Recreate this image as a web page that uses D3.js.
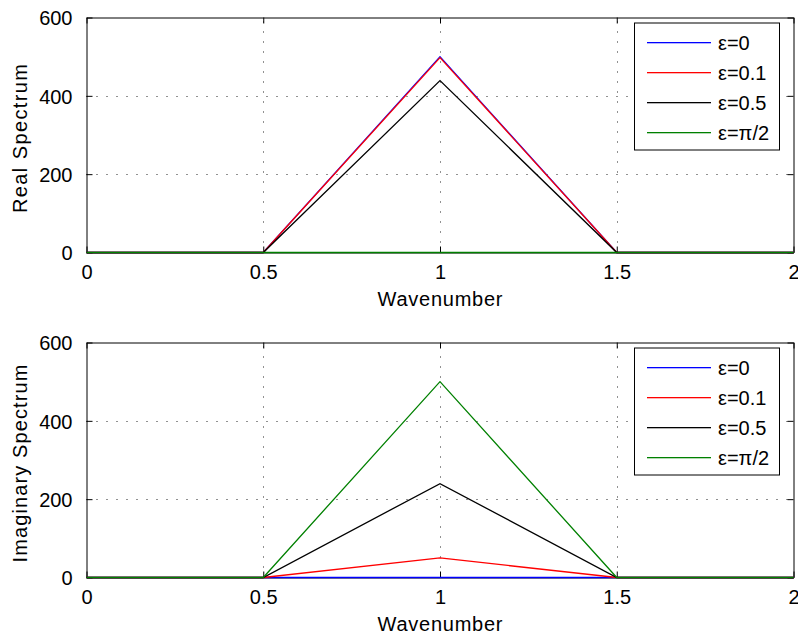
<!DOCTYPE html>
<html>
<head>
<meta charset="utf-8">
<script src="https://cdn.jsdelivr.net/npm/d3@7"></script>
<style>
  html, body { margin: 0; padding: 0; background: #fff; }
  svg { display: block; font-family: "Liberation Sans", Arial, Helvetica, sans-serif; }
</style>
</head>
<body>
<svg id="chart" width="798" height="635"></svg>
<script>
// ---- data ----
const wavenumbers = [0, 0.5, 1, 1.5, 2];
const seriesNames = ["ε=0", "ε=0.1", "ε=0.5", "ε=π/2"];
const seriesColors = ["#0000ff", "#ff0000", "#000000", "#008000"];
const realEps0   = [0, 0, 500.0, 0, 0];
const realEps01  = [0, 0, 497.5, 0, 0];
const realEps05  = [0, 0, 438.8, 0, 0];
const realEpsPi2 = [0, 0, 0, 0, 0];
const imagEps0   = [0, 0, 0, 0, 0];
const imagEps01  = [0, 0, 49.9, 0, 0];
const imagEps05  = [0, 0, 239.7, 0, 0];
const imagEpsPi2 = [0, 0, 500.0, 0, 0];
const xTicks = [0, 0.5, 1, 1.5, 2];
const yTicks = [0, 200, 400, 600];
const xGrid = [0.5, 1, 1.5];
const yGrid = [200, 400];
const xLabel = "Wavenumber";
const yLabels = ["Real Spectrum", "Imaginary Spectrum"];

const svg = d3.select("#chart");
const left = 86.5, right = 793.5;
const x = d3.scaleLinear().domain([0, 2]).range([left, right]);

function panel(pid, top, bottom, yLabelText, yLabelLen, seriesVals) {
  const y = d3.scaleLinear().domain([0, 600]).range([bottom, top]);
  const g = svg.append("g").attr("class", "panel-" + pid);

  // grid
  g.append("g").attr("class", "gridx").selectAll("line").data(xGrid).join("line")
    .attr("x1", d => Math.round(x(d)) + 0.5).attr("x2", d => Math.round(x(d)) + 0.5)
    .attr("y1", bottom).attr("y2", top)
    .style("stroke", "#222").style("stroke-width", 1).style("stroke-dasharray", "1,9");
  g.append("g").attr("class", "gridy").selectAll("line").data(yGrid).join("line")
    .attr("y1", d => Math.round(y(d)) + 0.5).attr("y2", d => Math.round(y(d)) + 0.5)
    .attr("x1", left).attr("x2", right)
    .style("stroke", "#222").style("stroke-width", 1).style("stroke-dasharray", "1,9");

  // axes: bottom, left, top, right (ticks inward, MATLAB box)
  const tl = 6;
  const axB = g.append("g").attr("transform", `translate(0,${bottom})`)
    .call(d3.axisBottom(x).tickValues(xTicks).tickFormat(d3.format("")).tickSizeInner(-tl).tickSizeOuter(0).tickPadding(12));
  const axT = g.append("g").attr("transform", `translate(0,${top})`)
    .call(d3.axisTop(x).tickValues(xTicks).tickFormat("").tickSizeInner(-tl).tickSizeOuter(0));
  const axL = g.append("g").attr("transform", `translate(${left},0)`)
    .call(d3.axisLeft(y).tickValues(yTicks).tickFormat(d3.format("")).tickSizeInner(-tl).tickSizeOuter(0).tickPadding(14));
  const axR = g.append("g").attr("transform", `translate(${right},0)`)
    .call(d3.axisRight(y).tickValues(yTicks).tickFormat("").tickSizeInner(-tl).tickSizeOuter(0));
  [axB, axT, axL, axR].forEach(a => {
    a.select(".domain").attr("stroke", "#000").attr("stroke-width", 1);
    a.selectAll(".tick line").attr("stroke", "#000");
    a.selectAll("text").attr("fill", "#000").style("font-size", "20px")
      .style("font-family", '"Liberation Sans", Arial, sans-serif');
  });
  axB.selectAll("text").attr("dy", null).attr("y", 26);
  axL.selectAll("text").attr("dy", "0.36em");

  // x label
  g.append("text").attr("x", (left + right) / 2).attr("y", bottom + 53)
    .attr("text-anchor", "middle").style("font-size", "20px")
    .attr("textLength", 125).attr("lengthAdjust", "spacing")
    .text(xLabel);
  // y label
  const cy = (top + bottom) / 2 + 3.5;
  g.append("text").attr("transform", `translate(27,${cy}) rotate(-90)`)
    .attr("text-anchor", "middle").style("font-size", "20px")
    .attr("textLength", yLabelLen).attr("lengthAdjust", "spacing")
    .text(yLabelText);

  // data lines
  const line = d3.line().x((d, i) => x(wavenumbers[i])).y(d => y(d));
  const dg = g.append("g").attr("class", "data");
  seriesVals.forEach((vals, k) => {
    dg.append("path").datum(vals).attr("d", line)
      .style("fill", "none").style("stroke", seriesColors[k]).style("stroke-width", 1.3);
  });

  // legend
  const lx0 = 634.5, lx1 = 779.5, ly0 = top + 5.5, ly1 = top + 132.5;
  const lg = g.append("g").attr("class", "legend");
  lg.append("rect").attr("x", lx0).attr("y", ly0).attr("width", lx1 - lx0).attr("height", ly1 - ly0)
    .style("fill", "#fff").style("stroke", "#000").style("stroke-width", 1);
  const rowY = d3.scalePoint().domain(seriesNames).range([top + 24.5, top + 114.5]);
  const rows = lg.selectAll("g.row").data(seriesNames).join("g").attr("class", "row");
  rows.append("rect")
    .attr("x", 647).attr("width", 64)
    .attr("y", d => Math.round(rowY(d))).attr("height", 1.3)
    .style("fill", (d, k) => seriesColors[k]);
  rows.append("text").attr("x", 718).attr("y", d => Math.round(rowY(d)) + 0.5).attr("dy", "0.36em")
    .style("font-size", "20px").style("fill", "#000").text(d => d);
}

panel("re", 17.5, 252.5, yLabels[0], 149, [realEps0, realEps01, realEps05, realEpsPi2]);
panel("im", 342.5, 577.5, yLabels[1], 198, [imagEps0, imagEps01, imagEps05, imagEpsPi2]);
</script>
</body>
</html>
